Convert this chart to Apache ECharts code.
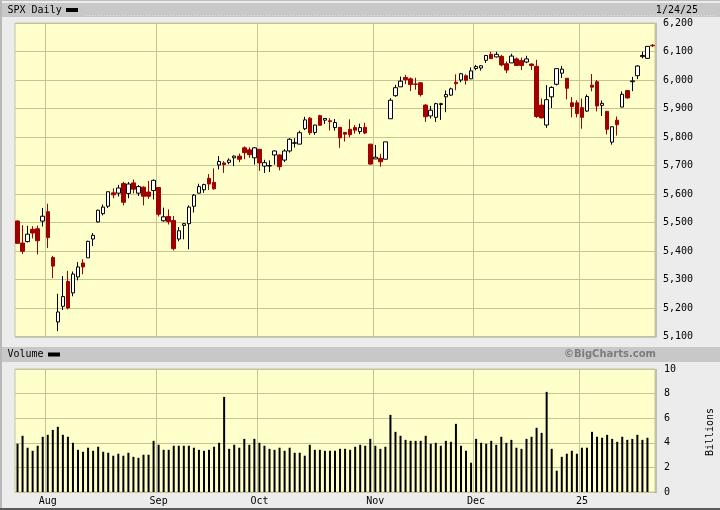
<!DOCTYPE html>
<html><head><meta charset="utf-8">
<script src="https://cdn.jsdelivr.net/npm/echarts@6/dist/echarts.min.js"></script>
<style>html,body{margin:0;padding:0;background:#ececec;}#c{width:720px;height:510px;}</style>
</head><body><div id="c"></div><script>
const dates = ['2024-07-24','2024-07-25','2024-07-26','2024-07-29','2024-07-30','2024-07-31',
'2024-08-01','2024-08-02','2024-08-05','2024-08-06','2024-08-07','2024-08-08','2024-08-09','2024-08-12','2024-08-13','2024-08-14','2024-08-15','2024-08-16','2024-08-19','2024-08-20','2024-08-21','2024-08-22','2024-08-23','2024-08-26','2024-08-27','2024-08-28','2024-08-29','2024-08-30',
'2024-09-03','2024-09-04','2024-09-05','2024-09-06','2024-09-09','2024-09-10','2024-09-11','2024-09-12','2024-09-13','2024-09-16','2024-09-17','2024-09-18','2024-09-19','2024-09-20','2024-09-23','2024-09-24','2024-09-25','2024-09-26','2024-09-27','2024-09-30',
'2024-10-01','2024-10-02','2024-10-03','2024-10-04','2024-10-07','2024-10-08','2024-10-09','2024-10-10','2024-10-11','2024-10-14','2024-10-15','2024-10-16','2024-10-17','2024-10-18','2024-10-21','2024-10-22','2024-10-23','2024-10-24','2024-10-25','2024-10-28','2024-10-29','2024-10-30','2024-10-31',
'2024-11-01','2024-11-04','2024-11-05','2024-11-06','2024-11-07','2024-11-08','2024-11-11','2024-11-12','2024-11-13','2024-11-14','2024-11-15','2024-11-18','2024-11-19','2024-11-20','2024-11-21','2024-11-22','2024-11-25','2024-11-26','2024-11-27','2024-11-29',
'2024-12-02','2024-12-03','2024-12-04','2024-12-05','2024-12-06','2024-12-09','2024-12-10','2024-12-11','2024-12-12','2024-12-13','2024-12-16','2024-12-17','2024-12-18','2024-12-19','2024-12-20','2024-12-23','2024-12-24','2024-12-26','2024-12-27','2024-12-30','2024-12-31',
'2025-01-02','2025-01-03','2025-01-06','2025-01-07','2025-01-08','2025-01-10','2025-01-13','2025-01-14','2025-01-15','2025-01-16','2025-01-17','2025-01-21','2025-01-22','2025-01-23','2025-01-24'];

const open = [5505,5428,5433,5476,5478,5505,
5538,5377,5151,5206,5293,5253,5309,5358,5376,5442,5502,5531,5557,5604,5603,5637,5602,5639,5603,5624,5607,5612,
5623,5506,5521,5507,5442,5490,5496,5557,5603,5615,5655,5641,5702,5709,5711,5727,5733,5762,5755,5727,
5757,5698,5698,5737,5737,5719,5751,5778,5775,5829,5866,5816,5875,5859,5857,5833,5834,5816,5827,5833,5819,5834,5775,
5723,5725,5722,5864,5945,5976,6009,6004,5986,5990,5912,5874,5869,5914,5941,5947,5992,6000,6015,6004,
6040,6042,6069,6090,6081,6083,6057,6060,6074,6068,6063,6056,6048,5912,5842,5941,5985,6024,6006,5920,5920,
5903,5891,5982,5994,5911,5890,5782,5859,5905,5963,5994,6015,6082,6076,6122];

const high = [5508,5491,5488,5487,5489,5551,
5566,5383,5250,5312,5330,5328,5361,5371,5436,5463,5545,5563,5608,5620,5632,5643,5642,5651,5631,5627,5646,5651,
5624,5552,5546,5523,5484,5497,5560,5600,5636,5636,5670,5690,5733,5715,5725,5735,5742,5767,5764,5765,
5757,5720,5718,5753,5739,5757,5796,5796,5822,5871,5870,5843,5878,5866,5866,5863,5835,5817,5862,5842,5847,5850,5775,
5772,5741,5783,5936,5983,6012,6018,6009,6008,5993,5915,5909,5920,5920,5963,5973,6020,6025,6020,6044,
6053,6052,6088,6099,6099,6088,6065,6092,6079,6079,6085,6058,6071,5935,5982,5978,6040,6049,6006,5940,5929,
5935,5949,6021,6000,5928,5890,5837,5872,5960,5964,6011,6052,6100,6119,6126];

const low = [5426,5390,5430,5444,5388,5486,
5410,5305,5119,5193,5195,5241,5297,5318,5376,5418,5500,5525,5551,5585,5591,5560,5585,5602,5593,5560,5583,5581,
5521,5503,5493,5402,5434,5441,5406,5535,5602,5604,5614,5615,5686,5674,5704,5698,5712,5722,5727,5703,
5681,5674,5677,5703,5683,5712,5745,5763,5775,5824,5807,5808,5840,5846,5823,5822,5762,5784,5799,5812,5810,5810,5703,
5723,5696,5722,5864,5941,5976,5986,5961,5966,5942,5853,5865,5853,5860,5887,5945,5964,5992,5984,6003,
6034,6033,6060,6076,6079,6048,6024,6060,6051,6035,6059,6035,5867,5866,5832,5902,5981,6007,5932,5869,5869,
5829,5888,5960,5890,5874,5809,5773,5805,5905,5935,5961,6003,6076,6074,6116];

const close = [5427,5399,5459,5463,5436,5522,
5447,5347,5186,5240,5200,5319,5344,5344,5434,5455,5543,5554,5608,5597,5621,5571,5635,5617,5626,5592,5592,5648,
5529,5520,5503,5408,5471,5496,5554,5596,5626,5633,5635,5618,5714,5703,5719,5733,5722,5745,5738,5762,
5709,5710,5700,5751,5696,5751,5792,5780,5815,5860,5815,5842,5841,5865,5854,5851,5797,5810,5808,5824,5833,5814,5705,
5729,5713,5783,5929,5973,5996,6001,5984,5985,5949,5871,5894,5917,5917,5949,5969,5987,6022,5999,6032,
6047,6050,6086,6075,6090,6053,6035,6084,6051,6051,6074,6051,5872,5867,5931,5974,6040,6038,5971,5907,5882,
5869,5942,5975,5909,5918,5827,5836,5843,5950,5937,5997,6049,6086,6118,6120];

// volume in billions (last session has no bar)
const volume = [3.92,4.57,3.60,3.35,3.76,4.49,
4.65,5.05,5.30,4.65,4.49,4.00,3.43,3.27,3.60,3.35,3.68,3.27,3.19,2.95,3.11,2.95,3.19,2.86,2.78,3.03,3.03,4.16,
3.84,3.43,3.43,3.76,3.76,3.76,3.76,3.60,3.43,3.35,3.43,3.68,4.00,7.73,3.51,3.84,3.60,4.32,3.84,4.32,
4.00,3.76,3.51,3.43,3.60,3.35,3.60,3.19,3.19,2.95,3.84,3.43,3.43,3.35,3.35,3.35,3.51,3.51,3.43,3.68,3.84,3.76,4.32,
3.76,3.51,3.68,6.27,4.89,4.57,4.24,4.16,4.16,4.16,4.57,3.92,4.00,3.76,4.16,4.08,5.54,3.76,3.35,2.38,
4.32,4.00,3.92,4.16,3.84,4.49,4.00,4.24,3.60,3.51,4.32,4.49,5.22,4.81,8.14,3.51,1.73,2.86,3.11,3.35,3.11,
3.60,3.60,4.89,4.49,4.41,4.65,4.32,4.08,4.49,4.24,4.32,4.65,4.24,4.41,null];

const priceTicks = [5100,5200,5300,5400,5500,5600,5700,5800,5900,6000,6100,6200];
const volumeTicks = [0,2,4,6,8,10];
const monthTickLabels = ['Aug','Sep','Oct','Nov','Dec','25'];

const monthStart = dates.map((d,i)=> i>0 && d.slice(5,7)!==dates[i-1].slice(5,7));
const monthLabelAt = {};
(function(){let k=0;dates.forEach((d,i)=>{if(monthStart[i]){monthLabelAt[i]=monthTickLabels[k++];}});})();

const GRID='#c4c494', BG='#ffffcc', RED='#a00000', MONO='DejaVu Sans Mono';
const PL=15, PW=640;

const chart = echarts.init(document.getElementById('c'), null, {renderer:'canvas'});
chart.setOption({
  animation:false,
  backgroundColor:'#ececec',
  grid:[
    {left:PL, top:23, width:PW, height:313.5, show:true, backgroundColor:BG, borderColor:'#c4c4a4', borderWidth:1},
    {left:PL, top:369, width:PW, height:123, show:true, backgroundColor:BG, borderColor:'#c4c4a4', borderWidth:1}
  ],
  xAxis:[
    {type:'category', gridIndex:0, data:dates, boundaryGap:true,
     axisLine:{show:false}, axisTick:{show:false}, axisLabel:{show:false},
     splitLine:{show:true, interval:(i)=>monthStart[i], lineStyle:{color:GRID, width:1}}},
    {type:'category', gridIndex:1, data:dates, boundaryGap:true,
     axisLine:{show:false}, axisTick:{show:false},
     axisLabel:{show:true, interval:(i)=>monthStart[i], formatter:(v,i)=>monthLabelAt[i]||'',
       fontFamily:MONO, fontSize:10, color:'#000', margin:4},
     splitLine:{show:true, interval:(i)=>monthStart[i], lineStyle:{color:GRID, width:1}}}
  ],
  yAxis:[
    {type:'value', gridIndex:0, position:'right', min:priceTicks[0], max:priceTicks[priceTicks.length-1],
     interval:priceTicks[1]-priceTicks[0],
     axisLine:{show:false}, axisTick:{show:false},
     axisLabel:{formatter:(v)=>v.toLocaleString('en-US'), fontFamily:MONO, fontSize:10, color:'#000', margin:8},
     splitLine:{show:true, lineStyle:{color:GRID, width:1}}},
    {type:'value', gridIndex:1, position:'right', min:volumeTicks[0], max:volumeTicks[volumeTicks.length-1],
     interval:volumeTicks[1]-volumeTicks[0],
     axisLine:{show:false}, axisTick:{show:false},
     axisLabel:{fontFamily:MONO, fontSize:10, color:'#000', margin:9},
     splitLine:{show:true, lineStyle:{color:GRID, width:1}}}
  ],
  series:[
    {type:'candlestick', xAxisIndex:0, yAxisIndex:0, barWidth:4,
     data:dates.map((d,i)=>[open[i],close[i],low[i],high[i]]),
     itemStyle:{color:'#ffffff', color0:RED, borderColor:'#000000', borderColor0:RED, borderColorDoji:'#000000', borderWidth:1}},
    {type:'bar', xAxisIndex:1, yAxisIndex:1, barWidth:2, data:volume, itemStyle:{color:'#000000'}}
  ],
  graphic:[
    {type:'rect', shape:{x:0,y:0,width:720,height:1}, style:{fill:'#bdbdbd'}, silent:true},
    {type:'rect', shape:{x:0,y:0,width:2,height:510}, style:{fill:'#b8b8b8'}, silent:true},
    {type:'rect', shape:{x:0,y:508,width:720,height:2}, style:{fill:'#5a5a5a'}, silent:true},
    {type:'rect', shape:{x:2,y:3,width:718,height:14}, style:{fill:'#c8c8c8'}, silent:true},
    {type:'rect', shape:{x:2,y:347,width:718,height:15}, style:{fill:'#c8c8c8'}, silent:true},
    {type:'line', shape:{x1:86,y1:15.5,x2:716,y2:15.5}, style:{stroke:'#e4e4d0', lineWidth:1, lineDash:[1,2]}, silent:true},
    {type:'line', shape:{x1:15,y1:362.5,x2:716,y2:362.5}, style:{stroke:'#f0f0f0', lineWidth:1, lineDash:[1,2]}, silent:true},
    {type:'text', x:7.5, y:10, style:{text:'SPX Daily', font:'10px "DejaVu Sans Mono"', fill:'#000', textVerticalAlign:'middle'}, silent:true},
    {type:'rect', shape:{x:66,y:8,width:12,height:4}, style:{fill:'#000'}, silent:true},
    {type:'text', x:698, y:10, style:{text:'1/24/25', font:'10px "DejaVu Sans Mono"', fill:'#000', textAlign:'right', textVerticalAlign:'middle'}, silent:true},
    {type:'text', x:7.5, y:354.5, style:{text:'Volume', font:'10px "DejaVu Sans Mono"', fill:'#000', textVerticalAlign:'middle'}, silent:true},
    {type:'rect', shape:{x:48,y:352.5,width:12,height:4}, style:{fill:'#000'}, silent:true},
    {type:'text', x:656, y:354.5, style:{text:'\u00a9BigCharts.com', font:'bold 10px "DejaVu Sans"', fill:'#7c7c7c', textAlign:'right', textVerticalAlign:'middle'}, silent:true},
    {type:'text', x:710, y:432, rotation:Math.PI/2, style:{text:'Billions', font:'10px "DejaVu Sans Mono"', fill:'#000', textAlign:'center', textVerticalAlign:'middle'}, silent:true},
    {type:'polyline', shape:{points:[[PL,337],[656,337],[656,23]]}, style:{stroke:'#a0a0a0', lineWidth:1.2, fill:null}, silent:true},
    {type:'polyline', shape:{points:[[PL,492.5],[656,492.5],[656,369]]}, style:{stroke:'#a0a0a0', lineWidth:1.2, fill:null}, silent:true}
  ]
});
</script></body></html>
